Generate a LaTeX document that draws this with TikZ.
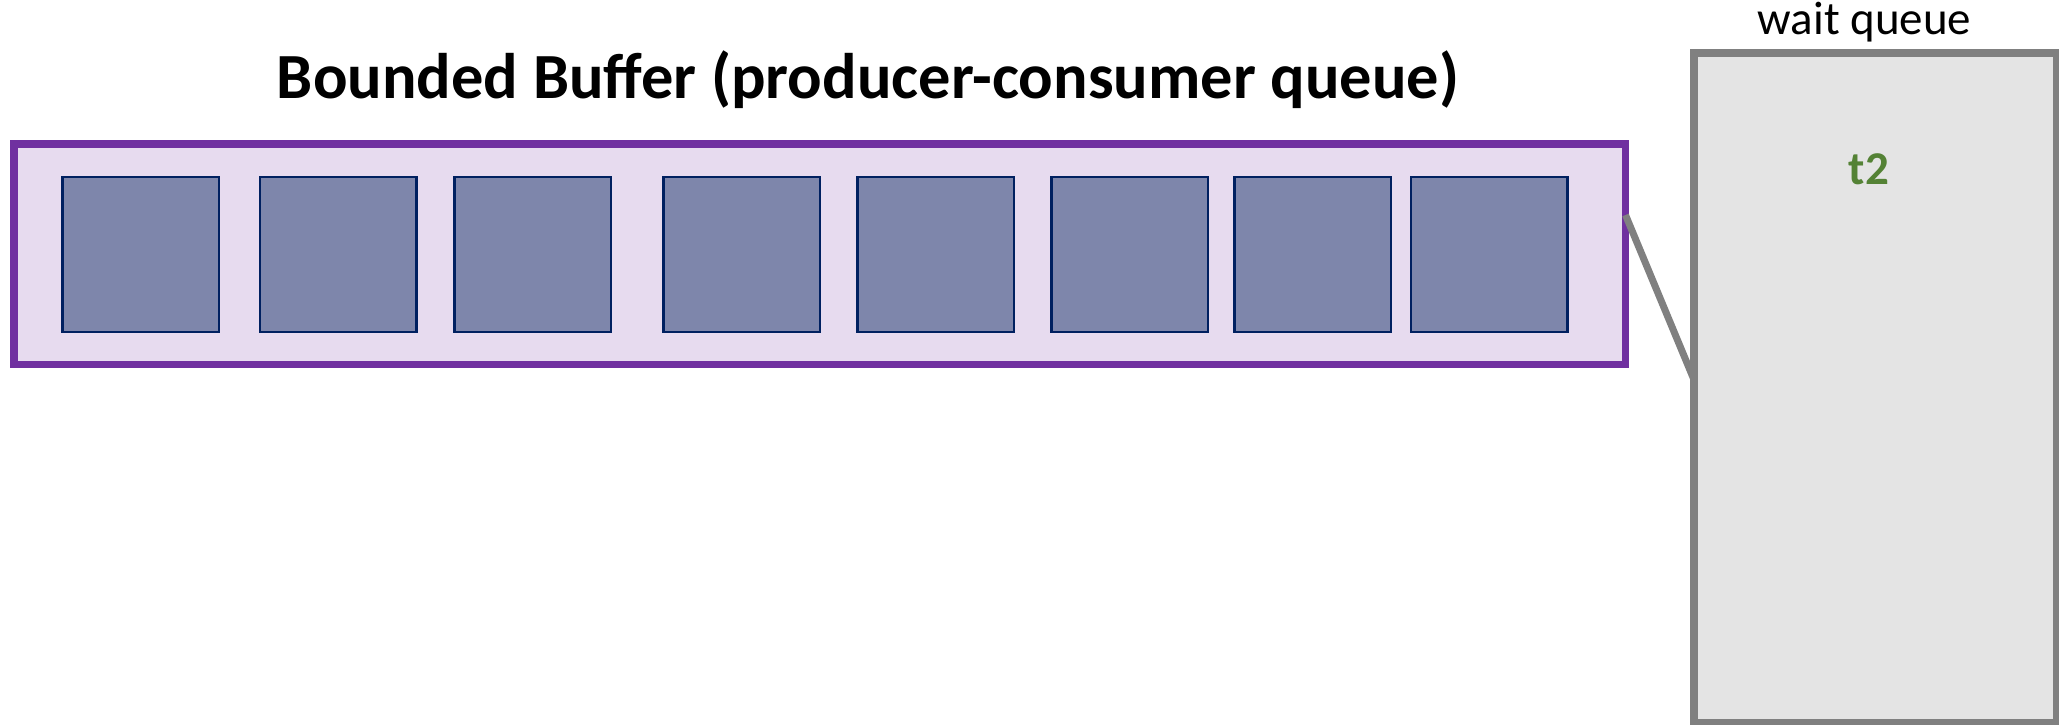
\documentclass[tikz,border=0pt]{standalone}
\usepackage{fontspec}
\setmainfont{Carlito}
\usetikzlibrary{calc}

\definecolor{bufpurple}{HTML}{7030A0}
\definecolor{buffill}{HTML}{E7DBEF}
\definecolor{slotfill}{HTML}{7E86AB}
\definecolor{slotnavy}{HTML}{002060}
\definecolor{queuegray}{HTML}{808080}
\definecolor{queuefill}{HTML}{E4E4E4}
\definecolor{threadgreen}{HTML}{548235}

\begin{document}
\begin{tikzpicture}[x=0.5pt, y=0.5pt,
    slot/.style={draw=slotnavy, line width=1.25pt, fill=slotfill, inner sep=0pt, outer sep=0pt,
        minimum width=78.25pt, minimum height=77.25pt},
    waitbox/.style={draw=queuegray, line width=4pt, fill=queuefill, inner sep=0pt, outer sep=0pt,
        minimum width=181.5pt, minimum height=334.85pt}]
    \useasboundingbox (0,0) rectangle (2059,724);

    % Title
    \node[anchor=base, font=\fontsize{32.2}{38}\selectfont\bfseries] (title) at (868,625.7)
        {Bounded Buffer (producer-consumer queue)};

    % Buffer outline
    \node[draw=bufpurple, line width=3.75pt, fill=buffill, inner sep=0pt, outer sep=0pt,
        minimum width=805.75pt, minimum height=110.25pt] (buffer) at (819.75,469.75) {};

    % Buffer slots
    \foreach \i/\x in {1/140.5, 2/338, 3/532.5, 4/741.5, 5/935.5, 6/1129.5, 7/1312.5, 8/1489} {
        \node[slot] (slot\i) at (\x,469.5) {};
    }

    % Wait queue
    \node[waitbox] (wq) at (1875.5,336.15) {};
    \node[anchor=base, font=\fontsize{23.5}{28}\selectfont] (wqlabel) at (1864.5,689) {wait queue};
    \node[anchor=base, text=threadgreen, font=\fontsize{23.5}{28}\selectfont\bfseries] (t2) at (1869,539.7) {t2};

    % Link from buffer to wait queue
    \coordinate (linkS) at ($(buffer.east)+(0,39.25)$);
    \coordinate (linkE) at ($(wq.west)+(0,8)$);
    \draw[queuegray, line width=3.5pt] (linkS) -- (linkE);
\end{tikzpicture}
\end{document}
